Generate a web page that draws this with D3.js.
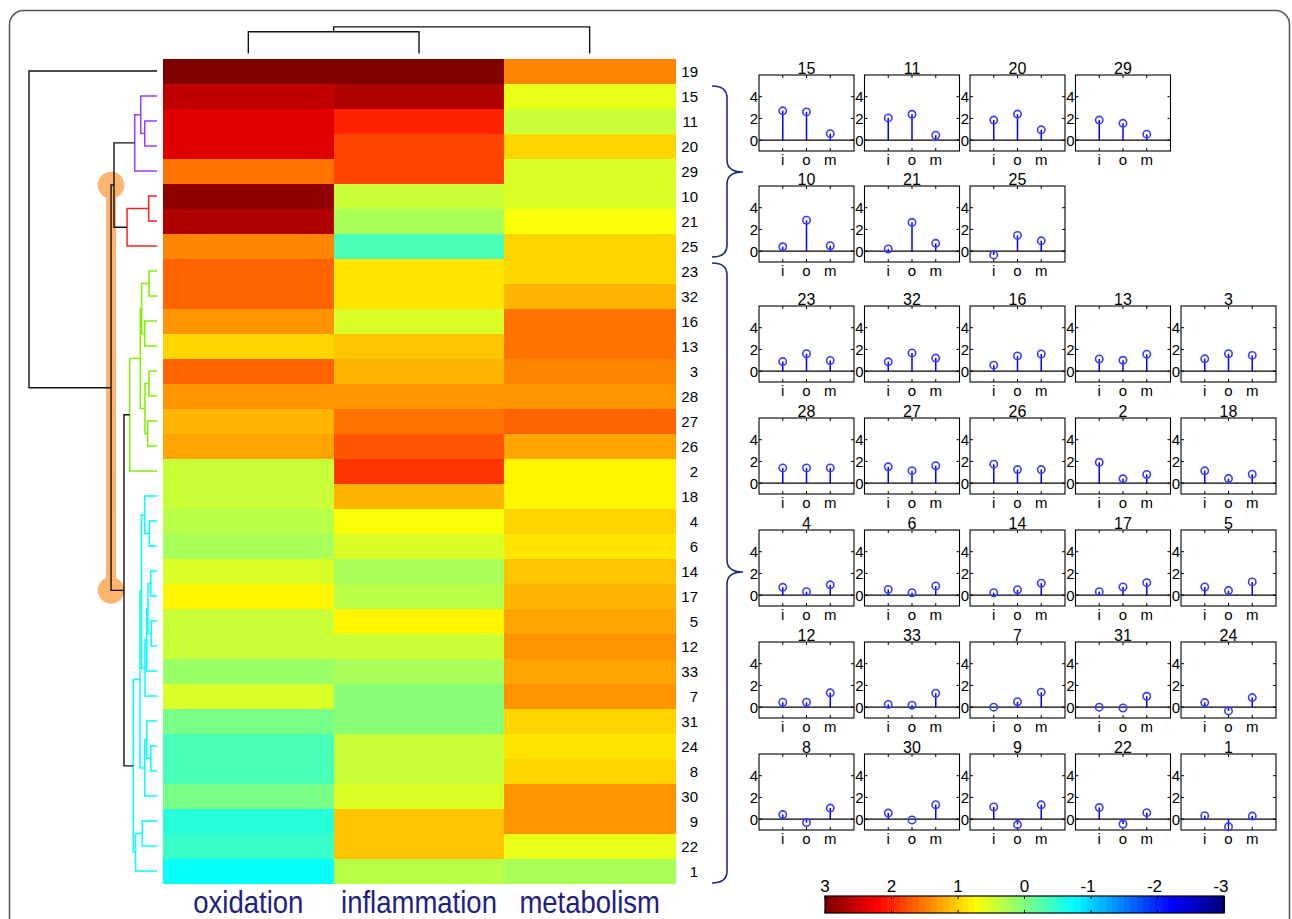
<!DOCTYPE html>
<html><head><meta charset="utf-8">
<script src="https://cdn.jsdelivr.net/npm/d3@7"></script>
<style>body{margin:0;background:#fff} svg{display:block} text{font-family:"Liberation Sans",Arial,sans-serif}</style>
</head><body><svg id="c" width="1292" height="919"></svg>
<script>
// ---------- data ----------
const rowLabels = ["19","15","11","20","29","10","21","25","23","32","16","13","3","28","27","26","2","18","4","6","14","17","5","12","33","7","31","24","8","30","9","22","1"];
const oxidation    = [3.0, 2.6, 2.38, 2.4, 1.55, 2.85, 2.65, 1.45, 1.6, 1.68, 1.4, 1.0, 1.6, 1.4, 1.15, 1.25, 0.4, 0.42, 0.32, 0.22, 0.5, 0.75, 0.42, 0.45, 0.18, 0.5, -0.08, -0.35, -0.32, -0.08, -0.5, -0.45, -0.7];
const inflammation = [3.0, 2.7, 2.05, 1.85, 1.85, 0.4, 0.2, -0.35, 0.88, 0.86, 0.55, 1.12, 1.13, 1.4, 1.5, 1.75, 1.92, 1.13, 0.72, 0.52, 0.22, 0.32, 0.75, 0.45, 0.25, 0.0, 0.0, 0.42, 0.42, 0.56, 1.12, 1.07, 0.32];
const metabolism   = [1.43, 0.6, 0.45, 0.95, 0.55, 0.5, 0.72, 0.95, 0.98, 1.2, 1.58, 1.56, 1.45, 1.4, 1.6, 1.25, 0.8, 0.82, 0.95, 0.85, 1.1, 1.15, 1.22, 1.32, 1.28, 1.38, 1.0, 0.88, 1.02, 1.33, 1.32, 0.6, 0.28];
const categories = ["oxidation","inflammation","metabolism"];
const stemTickLabels = ["i","o","m"];
const stemYTicks = [0,2,4];
const colorbarTicks = [3,2,1,0,-1,-2,-3];
// row linkage: [childA, childB, height]; "#k" refers to merge k
const rowLinkage = [
  ["11","20",0.96],["15","#0",1.27],["#1","29",1.74],
  ["10","21",0.65],["#3","25",2.34],["#2","#4",3.36],
  ["23","32",0.63],["16","13",0.96],["#6","#7",1.20],["3","28",0.63],["27","26",0.73],["#9","#10",0.94],["#8","#11",1.30],["#12","2",2.13],
  ["4","6",0.60],["18","#14",0.96],["14","17",0.49],["5","12",0.45],["#16","#17",0.70],["#18","33",0.80],["#19","7",0.94],["#15","#20",1.21],
  ["24","8",0.49],["31","#22",0.80],["#23","30",0.96],["#21","#24",1.33],["9","22",1.15],["#26","1",1.67],["#25","#27",1.85],
  ["#13","#28",2.58],["#5","#29",3.59],["19","#30",10.0]
];
const clusterRoots = [["#2","#9a3cff"],["#4","#ff2020"],["#13","#80ee00"],["#28","#00ffff"]];
const highlightNode = "#30";
const colLinkage = [["oxidation","inflammation",1.0],["#0","metabolism",1.22]];
const panelGroups = [
  [["15","11","20","29"],["10","21","25"]],
  [["23","32","16","13","3"],["28","27","26","2","18"],["4","6","14","17","5"],["12","33","7","31","24"],["8","30","9","22","1"]]
];

// ---------- helpers ----------
const svg = d3.select("#c");
const clamp = v => Math.max(0, Math.min(1, v));
function jet(t){ return d3.rgb(255*clamp(1.5-Math.abs(4*t-3)), 255*clamp(1.5-Math.abs(4*t-2)), 255*clamp(1.5-Math.abs(4*t-1))); }
const NC = 64;
const cIndex = d3.scaleQuantize().domain([-3,3]).range(d3.range(NC));
const colorOf = v => jet(cIndex(Math.max(-3,Math.min(3,v)))/(NC-1)).toString();

// border
svg.append("rect").attr("x",9.5).attr("y",10.5).attr("width",1280).attr("height",1000).attr("rx",14)
  .attr("fill","none").attr("stroke","#555").attr("stroke-width",1.5);

// ---------- heatmap ----------
const xH = d3.scaleBand().domain(categories).range([163,675]);
const yH = d3.scaleBand().domain(rowLabels).range([58.5,883.5]);
const series = {oxidation, inflammation, metabolism};
const cells = [];
rowLabels.forEach((r,i)=>categories.forEach(c=>cells.push({r,c,v:series[c][i]})));
svg.append("g").selectAll("rect").data(cells).join("rect")
  .attr("x",d=>xH(d.c)).attr("y",d=>yH(d.r)).attr("width",xH.bandwidth()+0.5).attr("height",yH.bandwidth()+0.5)
  .attr("fill",d=>colorOf(d.v)).attr("shape-rendering","crispEdges");
svg.append("g").selectAll("text").data(rowLabels).join("text")
  .attr("x",698).attr("y",d=>yH(d)+yH.bandwidth()/2+5.5).attr("text-anchor","end")
  .attr("font-size",15).text(d=>d);
svg.append("g").selectAll("text").data(categories).join("text")
  .attr("transform",d=>`translate(${xH(d)+xH.bandwidth()/2},913) scale(1,1.12)`)
  .attr("text-anchor","middle").attr("font-size",27.5).attr("fill","#202080").text(d=>d);

// ---------- row dendrogram ----------
const xD = d3.scaleLinear().domain([0,10]).range([157,29]);
const nodes = {};
rowLabels.forEach(l=>nodes[l]={y:yH(l)+yH.bandwidth()/2,h:0});
const nodeColor = {};
function markColor(id,col){ nodeColor[id]=col; const m=rowLinkage[+id.slice(1)]; [m[0],m[1]].forEach(c=>{if(c[0]==="#") markColor(c,col);}); }
clusterRoots.forEach(([id,col])=>markColor(id,col));
const links = [];
rowLinkage.forEach((m,k)=>{
  const a=nodes[m[0]], b=nodes[m[1]];
  const id="#"+k;
  nodes[id]={y:(a.y+b.y)/2,h:m[2],a,b};
  links.push({id,a,b,h:m[2],color:nodeColor[id]||"#111"});
});
// highlight
const hn = nodes[highlightNode];
const hl = svg.append("g").attr("fill","#fdb46e");
hl.append("rect").attr("x",xD(hn.h)-5).attr("y",hn.a.y).attr("width",10).attr("height",hn.b.y-hn.a.y);
hl.selectAll("circle").data([hn.a.y,hn.b.y]).join("circle").attr("cx",xD(hn.h)).attr("cy",d=>d).attr("r",13.3);
svg.append("g").attr("fill","none").selectAll("path").data(links).join("path")
  .attr("d",d=>`M${xD(d.a.h)},${d.a.y}H${xD(d.h)}V${d.b.y}H${xD(d.b.h)}`)
  .attr("stroke",d=>d.color).attr("stroke-width",d=>d.color==="#111"?1.4:1.5);

// ---------- column dendrogram ----------
const yC = d3.scaleLinear().domain([0,1]).range([53.5,31.7]);
const cn = {};
categories.forEach(c=>cn[c]={x:xH(c)+xH.bandwidth()/2,h:0});
const clinks=[];
colLinkage.forEach((m,k)=>{const a=cn[m[0]],b=cn[m[1]]; cn["#"+k]={x:(a.x+b.x)/2,h:m[2]}; clinks.push({a,b,h:m[2]});});
svg.append("g").attr("fill","none").selectAll("path").data(clinks).join("path")
  .attr("d",d=>`M${d.a.x},${yC(d.a.h)}V${yC(d.h)}H${d.b.x}V${yC(d.b.h)}`)
  .attr("stroke","#111").attr("stroke-width",1.4);

// ---------- braces ----------
function brace(y0,y1,ym){ const x0=712,xs=727,xt=743,r=12;
  return `M${x0},${y0}Q${xs},${y0} ${xs},${y0+r}L${xs},${ym-r}Q${xs},${ym} ${xt},${ym}Q${xs},${ym} ${xs},${ym+r}L${xs},${y1-r}Q${xs},${y1} ${x0},${y1}`; }
svg.append("g").attr("fill","none").attr("stroke","#232a86").attr("stroke-width",1.6)
  .selectAll("path").data([[86,257,172],[263,883,572]]).join("path").attr("d",d=>brace(...d));

// ---------- stem panels ----------
const PW=95, PH=76;
const xs = d3.scaleLinear().domain([0,4]).range([0,PW]);
const ys = d3.scaleLinear().domain([-1,6]).range([PH,0]);
panelGroups.forEach((grp,g)=>grp.forEach((row,r)=>row.forEach((lab,c)=>{
  const top = g===0 ? 75+111*r : 306+112*r;
  const left = 759+105.5*c;
  const p = svg.append("g").attr("transform",`translate(${left},${top})`);
  const i = rowLabels.indexOf(lab);
  const vals = [inflammation[i], oxidation[i], metabolism[i]];
  p.append("rect").attr("width",PW).attr("height",PH).attr("fill","none").attr("stroke","#000").attr("stroke-width",1.1);
  stemYTicks.forEach(t=>{
    p.append("line").attr("x1",0).attr("x2",3).attr("y1",ys(t)).attr("y2",ys(t)).attr("stroke","#000");
    p.append("line").attr("x1",PW).attr("x2",PW-3).attr("y1",ys(t)).attr("y2",ys(t)).attr("stroke","#000");
    p.append("text").attr("x",-1).attr("y",ys(t)+5.5).attr("text-anchor","end").attr("font-size",15).text(t);
  });
  stemTickLabels.forEach((t,k)=>{
    p.append("line").attr("x1",xs(k+1)).attr("x2",xs(k+1)).attr("y1",0).attr("y2",3).attr("stroke","#000");
    p.append("line").attr("x1",xs(k+1)).attr("x2",xs(k+1)).attr("y1",PH).attr("y2",PH-3).attr("stroke","#000");
    p.append("text").attr("x",xs(k+1)).attr("y",PH+13.5).attr("text-anchor","middle").attr("font-size",15).text(t);
  });
  p.append("line").attr("x1",xs(0)).attr("x2",xs(4)).attr("y1",ys(0)).attr("y2",ys(0)).attr("stroke","#000").attr("stroke-width",1.4);
  p.append("text").attr("x",PW/2).attr("y",-1).attr("text-anchor","middle").attr("font-size",16).text(lab);
  p.selectAll("line.stem").data(vals).join("line").attr("class","stem")
    .attr("x1",(d,k)=>xs(k+1)).attr("x2",(d,k)=>xs(k+1)).attr("y1",ys(0)).attr("y2",d=>ys(d))
    .attr("stroke","#0000ff").attr("stroke-width",1.5);
  p.selectAll("circle").data(vals).join("circle")
    .attr("cx",(d,k)=>xs(k+1)).attr("cy",d=>ys(d)).attr("r",3.7)
    .attr("fill","none").attr("stroke","#3c3cff").attr("stroke-width",1.6);
})));

// ---------- colorbar ----------
const xCB = d3.scaleLinear().domain([3,-3]).range([825,1224]);
const cbY=896, cbH=17;
const steps = d3.range(NC).map(k=>({v0:3-k*6/NC, v1:3-(k+1)*6/NC, k:NC-1-k}));
svg.append("g").selectAll("rect").data(steps).join("rect")
  .attr("x",d=>xCB(d.v0)).attr("y",cbY).attr("width",d=>xCB(d.v1)-xCB(d.v0)+0.5).attr("height",cbH)
  .attr("fill",d=>jet(d.k/(NC-1)).toString()).attr("shape-rendering","crispEdges");
svg.append("rect").attr("x",825).attr("y",cbY).attr("width",xCB(-3)-xCB(3)).attr("height",cbH)
  .attr("fill","none").attr("stroke","#000").attr("stroke-width",1.2);
colorbarTicks.forEach(t=>{
  svg.append("line").attr("x1",xCB(t)).attr("x2",xCB(t)).attr("y1",cbY).attr("y2",cbY+3).attr("stroke","#000");
  svg.append("line").attr("x1",xCB(t)).attr("x2",xCB(t)).attr("y1",cbY+cbH).attr("y2",cbY+cbH-3).attr("stroke","#000");
  svg.append("text").attr("x",xCB(t)-(t<0?3:0)).attr("y",cbY-4).attr("text-anchor","middle").attr("font-size",17).text(t);
});
</script></body></html>
